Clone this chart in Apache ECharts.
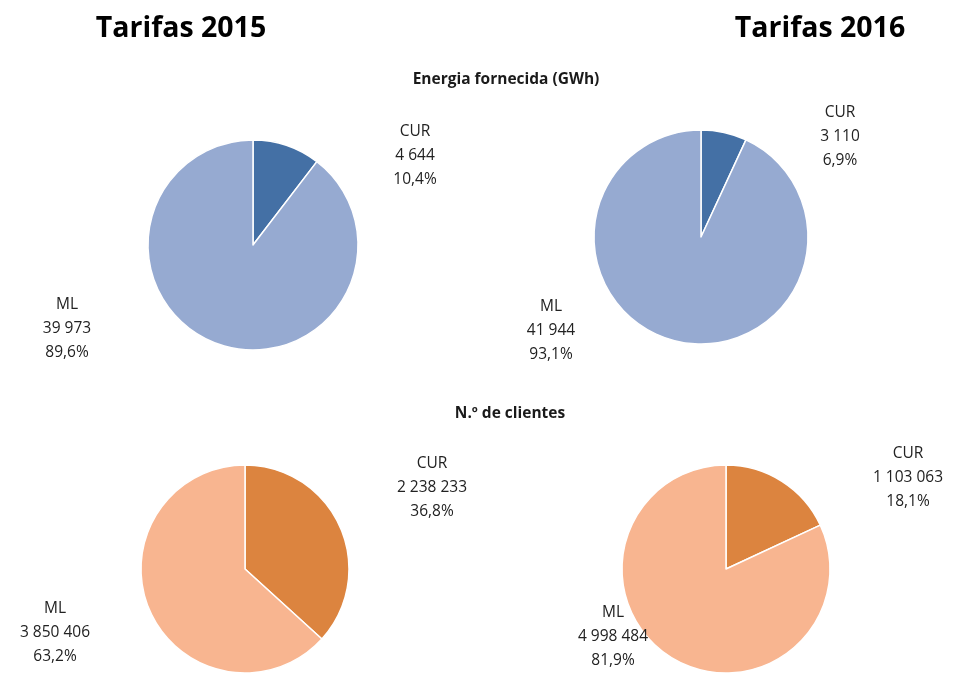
<!DOCTYPE html>
<html>
<head>
<meta charset="utf-8">
<script src="https://cdn.jsdelivr.net/npm/echarts@6/dist/echarts.min.js"></script>
<style>
  html, body { margin: 0; padding: 0; background: #fff; }
  #main { width: 954px; height: 675px; }
</style>
</head>
<body>
<div id="main"></div>
<script>
// dados
var categories = ["CUR", "ML"];
var energia2015 = [4644, 39973];
var energia2016 = [3110, 41944];
var clientes2015 = [2238233, 3850406];
var clientes2016 = [1103063, 4998484];

var blues = ["#4470a5", "#96aad1"];
var oranges = ["#dc843f", "#f8b590"];

// label positions (CUR, ML) for each pie
var labelPos = [
  [[415, 156], [67, 329]],
  [[840, 137], [551, 331]],
  [[432, 488], [55, 633]],
  [[908, 478], [613, 637]]
];

function fmtNum(v) {
  return String(v).replace(/\B(?=(\d{3})+(?!\d))/g, " ");
}

function makePie(idx, values, colors, center, radius) {
  return {
    type: "pie",
    center: center,
    radius: radius,
    startAngle: 90,
    clockwise: true,
    percentPrecision: 1,
    silent: true,
    itemStyle: { borderColor: "#fff", borderWidth: 1.5 },
    labelLine: { show: false },
    label: {
      show: true,
      position: "outside",
      formatter: function (p) {
        return p.name + "\n" + fmtNum(p.value) + "\n" + p.percent.toFixed(1).replace(".", ",") + "%";
      },
      fontFamily: "Open Sans",
      fontSize: 15.5,
      lineHeight: 24,
      color: "#222",
      align: "center"
    },
    labelLayout: function (params) {
      var pos = labelPos[idx][params.dataIndex];
      return { x: pos[0], y: pos[1], align: "center", verticalAlign: "middle" };
    },
    data: categories.map(function (c, i) {
      return { name: c, value: values[i], itemStyle: { color: colors[i] } };
    })
  };
}

var myChart = echarts.init(document.getElementById("main"));
var option = {
  animation: false,
  title: [
    { text: "Tarifas 2015", left: 176, top: 24, textAlign: "center", textVerticalAlign: "middle",
      textStyle: { fontFamily: "Open Sans", fontWeight: "bold", fontSize: 28.5, color: "#000" } },
    { text: "Tarifas 2016", left: 815, top: 24, textAlign: "center", textVerticalAlign: "middle",
      textStyle: { fontFamily: "Open Sans", fontWeight: "bold", fontSize: 28.5, color: "#000" } },
    { text: "Energia fornecida (GWh)", left: 501, top: 75, textAlign: "center", textVerticalAlign: "middle",
      textStyle: { fontFamily: "Open Sans", fontWeight: "bold", fontSize: 15.5, color: "#1a1a1a" } },
    { text: "N.º de clientes", left: 505, top: 409, textAlign: "center", textVerticalAlign: "middle",
      textStyle: { fontFamily: "Open Sans", fontWeight: "bold", fontSize: 15.5, color: "#1a1a1a" } }
  ],
  series: [
    makePie(0, energia2015, blues, [253, 245], 105),
    makePie(1, energia2016, blues, [701, 237], 107),
    makePie(2, clientes2015, oranges, [245, 569], 104),
    makePie(3, clientes2016, oranges, [726, 569], 104)
  ]
};
myChart.setOption(option);
</script>
</body>
</html>
